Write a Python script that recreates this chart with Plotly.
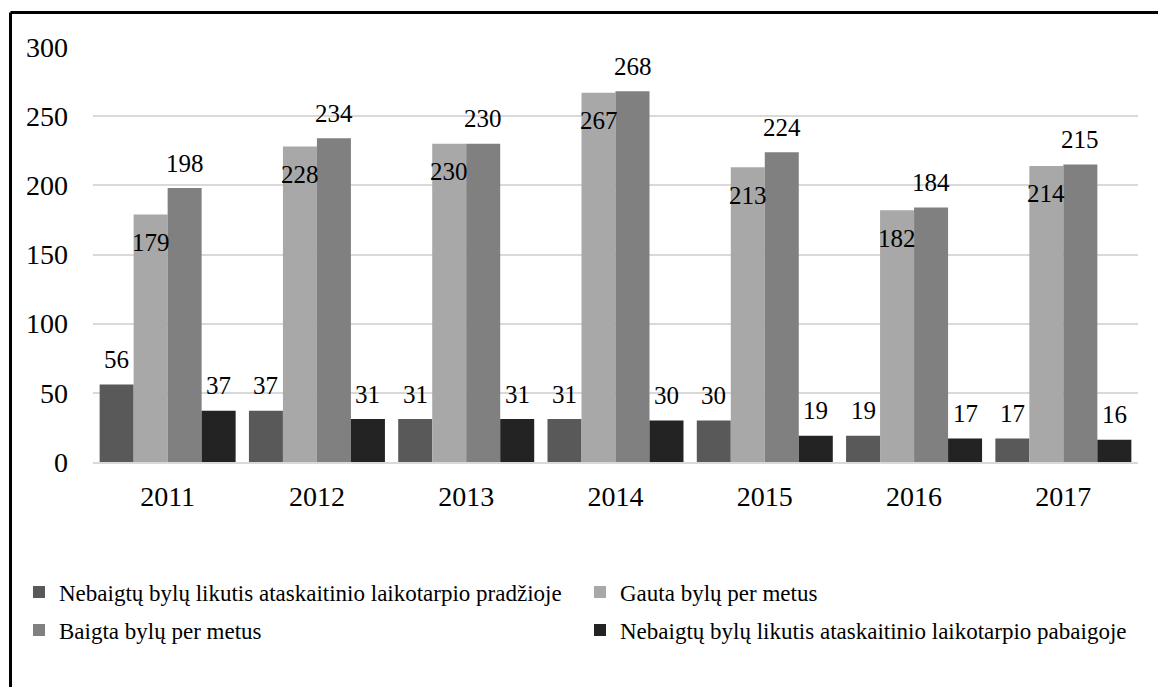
import plotly.graph_objects as go

years = ["2011", "2012", "2013", "2014", "2015", "2016", "2017"]
series_names = [
    "Nebaigtų bylų likutis ataskaitinio laikotarpio pradžioje",
    "Gauta bylų per metus",
    "Baigta bylų per metus",
    "Nebaigtų bylų likutis ataskaitinio laikotarpio pabaigoje",
]
start_left = [56, 37, 31, 31, 30, 19, 17]
received = [179, 228, 230, 267, 213, 182, 214]
finished = [198, 234, 230, 268, 224, 184, 215]
end_left = [37, 31, 31, 30, 19, 17, 16]
all_values = [start_left, received, finished, end_left]
colors = ["#595959", "#a8a8a8", "#808080", "#232323"]

FONT = "Liberation Serif"
BARGAP = 0.089
W, H = 1158, 687
ML, MR, MT, MB = 93, 20, 47, 225
PW, PH = W - ML - MR, H - MT - MB

# legend placement (left x of legend box, row centre y), in pixels
legend_ids = ["legend", "legend2", "legend3", "legend4"]
legend_pos = [(19, 592), (580, 592), (19, 630), (580, 630)]

fig = go.Figure()
for name, vals, col, lg in zip(series_names, all_values, colors, legend_ids):
    fig.add_trace(go.Bar(
        x=years, y=vals, name=name, marker=dict(color=col, line=dict(width=0)),
        legend=lg,
    ))

# data labels
bw = (1 - BARGAP) / 4
for k, vals in enumerate(all_values):
    off = (k - 1.5) * bw
    for i, v in enumerate(vals):
        inside = (k == 1)
        fig.add_annotation(
            x=i + off, y=v, xref="x", yref="y", text=str(v), showarrow=False,
            yanchor="middle", yshift=(-28 if inside else 25),
            font=dict(family=FONT, size=25, color="#000000"),
        )

legend_layouts = {}
for lg, (lx, ly) in zip(legend_ids, legend_pos):
    legend_layouts[lg] = dict(
        orientation="h", xref="container", yref="container",
        x=lx / W, y=1 - ly / H, xanchor="left", yanchor="middle",
        itemwidth=30,
        font=dict(family=FONT, size=23, color="#000000"),
        bgcolor="rgba(0,0,0,0)",
    )

# frame lines (top and left edges of the chart frame)
fx = (10.5 - ML) / PW
fy = (H - MB - 12.5) / PH
frame = [
    dict(type="line", xref="paper", yref="paper", x0=fx, x1=(W + 20 - ML) / PW,
         y0=fy, y1=fy, line=dict(color="black", width=3), layer="above"),
    dict(type="line", xref="paper", yref="paper", x0=fx, x1=fx,
         y0=fy, y1=-(MB + 20) / PH, line=dict(color="black", width=3), layer="above"),
]

fig.update_layout(
    width=W, height=H,
    margin=dict(l=ML, r=MR, t=MT, b=MB),
    paper_bgcolor="white", plot_bgcolor="white",
    barmode="group", bargap=BARGAP, bargroupgap=0,
    font=dict(family=FONT, size=28, color="#000000"),
    showlegend=True,
    shapes=frame,
    **legend_layouts,
)
fig.update_xaxes(
    type="category", showgrid=False, showline=True, linecolor="#d9d9d9", linewidth=2,
    ticks="", ticklabelstandoff=8, tickfont=dict(family=FONT, size=28),
)
fig.update_yaxes(
    range=[0, 300], tickvals=[0, 50, 100, 150, 200, 250, 300],
    showgrid=True, gridcolor="#d9d9d9", gridwidth=2, zeroline=False, showline=False,
    ticks="", ticklabelstandoff=24, tickfont=dict(family=FONT, size=28),
)

fig.write_html(
    "out.html",
    config={"displayModeBar": False},
    post_script="document.body.style.margin='0px'; document.body.style.overflow='hidden';",
)
